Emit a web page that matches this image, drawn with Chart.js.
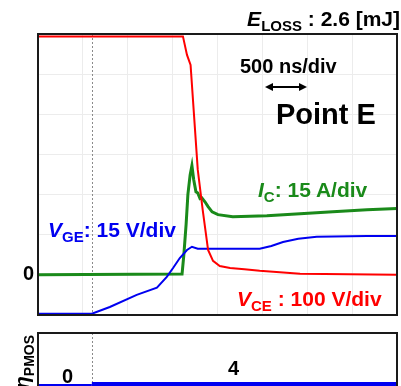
<!DOCTYPE html>
<html>
<head>
<meta charset="utf-8">
<script src="https://cdn.jsdelivr.net/npm/chart.js@4"></script>
<style>
  html, body { margin: 0; padding: 0; background: #fff; }
  body { width: 401px; height: 386px; overflow: hidden; position: relative; }
  canvas { position: absolute; left: 0; }
  .lbl { position: absolute; font-family: 'Liberation Sans', Arial, sans-serif; font-weight: bold; line-height: 1; white-space: nowrap; }
  .lbl sub { font-size: 15px; vertical-align: -5px; line-height: 0; }
</style>
</head>
<body>
<canvas id="mainChart" width="401" height="386" style="top:0"></canvas>
<canvas id="pmosChart" width="401" height="64" style="top:330px"></canvas>

<div class="lbl" style="right:1px; top:8px; font-size:21px;"><i>E</i><sub>LOSS</sub> : 2.6 [mJ]</div>
<div class="lbl" style="left:240px; top:56px; font-size:20px;">500 ns/div</div>
<div class="lbl" style="left:276px; top:100px; font-size:29px;">Point E</div>
<div class="lbl" style="left:258px; top:179px; font-size:21px; color:#1a8a1a;"><i>I</i><sub>C</sub>: 15 A/div</div>
<div class="lbl" style="left:48px; top:219px; font-size:21px; color:#0000f0;"><i>V</i><sub>GE</sub>: 15 V/div</div>
<div class="lbl" style="left:237px; top:288px; font-size:21px; color:#ff0000;"><i>V</i><sub>CE</sub> : 100 V/div</div>
<div class="lbl" style="left:62px; top:366px; font-size:20px;">0</div>
<div class="lbl" style="left:228px; top:358px; font-size:20px;">4</div>
<div class="lbl" style="left:11px; top:389px; font-size:21px; transform-origin:left top; transform:rotate(-90deg);"><i>η</i><sub style="font-size:14px">PMOS</sub></div>

<script>
// values in divisions
const vceX = [0, 3.23, 3.32, 3.40, 3.56, 3.67, 3.79, 3.90, 4.05, 4.28, 4.60, 4.94, 5.84, 8];
const vceY = [5.94, 5.94, 5.48, 5.23, 2.62, 1.62, 0.62, 0.35, 0.22, 0.17, 0.14, 0.10, 0.03, 0.0];

const icX = [0, 3.21, 3.25, 3.30, 3.34, 3.39, 3.43, 3.47, 3.52, 3.56, 3.61, 3.65, 3.72, 3.79, 3.88, 4.01, 4.34, 5.10, 5.84, 6.57, 7.33, 8];
const icY = [0, 0.02, 0.5, 1.25, 2.0, 2.49, 2.72, 2.37, 2.07, 2.04, 1.9, 1.92, 1.82, 1.70, 1.57, 1.50, 1.45, 1.47, 1.52, 1.57, 1.62, 1.65];

const vgeX = [0, 1.2, 1.6, 2.20, 2.65, 2.87, 3.01, 3.16, 3.32, 3.43, 3.56, 4.28, 4.94, 5.20, 5.46, 5.80, 6.21, 7.33, 8];
const vgeY = [-0.97, -0.97, -0.80, -0.50, -0.32, -0.05, 0.17, 0.42, 0.62, 0.70, 0.65, 0.65, 0.65, 0.72, 0.82, 0.90, 0.95, 0.97, 0.97];

// n_PMOS steps from 0 to 4 at the dashed marker
const pmosOffX = [0, 1.2];
const pmosOffY = [0, 0];
const pmosOnX = [1.2, 8];
const pmosOnY = [4, 4];

const markerX = 1.2;
const yTickLabels = { 0: '0' };

function pts(xs, ys) {
    return xs.map((x, i) => ({ x: x, y: ys[i] }));
}

// frame + dashed marker line
const scopePlugin = {
    id: 'scope',
    beforeDatasetsDraw(chart) {
        const ctx = chart.ctx;
        const a = chart.chartArea;
        const px = Math.round(chart.scales.x.getPixelForValue(markerX)) + 0.5;
        ctx.save();
        ctx.strokeStyle = '#8a8a8a';
        ctx.lineWidth = 1;
        ctx.setLineDash([2, 2]);
        ctx.beginPath();
        ctx.moveTo(px, a.top);
        ctx.lineTo(px, a.bottom);
        ctx.stroke();
        ctx.restore();
    },
    afterDatasetsDraw(chart) {
        const ctx = chart.ctx;
        const a = chart.chartArea;
        ctx.save();
        ctx.strokeStyle = '#1a1a1a';
        ctx.lineWidth = 2;
        ctx.strokeRect(a.left, a.top, a.right - a.left, a.bottom - a.top);
        ctx.restore();
    }
};

// the little double arrow under "500 ns/div"
const arrowPlugin = {
    id: 'arrow',
    afterDraw(chart) {
        const ctx = chart.ctx;
        const y = 87, x1 = 265, x2 = 307;
        ctx.save();
        ctx.strokeStyle = '#000';
        ctx.fillStyle = '#000';
        ctx.lineWidth = 2;
        ctx.beginPath();
        ctx.moveTo(x1 + 4, y);
        ctx.lineTo(x2 - 4, y);
        ctx.stroke();
        ctx.beginPath();
        ctx.moveTo(x1, y); ctx.lineTo(x1 + 8, y - 4); ctx.lineTo(x1 + 8, y + 4); ctx.closePath();
        ctx.fill();
        ctx.beginPath();
        ctx.moveTo(x2, y); ctx.lineTo(x2 - 8, y - 4); ctx.lineTo(x2 - 8, y + 4); ctx.closePath();
        ctx.fill();
        ctx.restore();
    }
};

new Chart('mainChart', {
    type: 'line',
    data: {
        datasets: [
            { data: pts(vceX, vceY), borderColor: '#ff0000', borderWidth: 2 },
            { data: pts(vgeX, vgeY), borderColor: '#0000f0', borderWidth: 2 },
            { data: pts(icX, icY), borderColor: '#1a8a1a', borderWidth: 3 }
        ]
    },
    options: {
        responsive: false,
        animation: false,
        layout: { padding: { left: 0, right: 4, top: 34, bottom: 71 } },
        elements: { point: { radius: 0 }, line: { tension: 0 } },
        plugins: { legend: { display: false }, tooltip: { enabled: false } },
        scales: {
            x: {
                type: 'linear', min: 0, max: 8,
                ticks: { stepSize: 1, display: false },
                grid: { color: '#ececec', drawTicks: false },
                border: { display: false },
                afterFit(axis) { axis.height = 0; }
            },
            y: {
                type: 'linear', min: -1, max: 6,
                ticks: {
                    stepSize: 1, padding: 4, color: '#000',
                    font: { family: 'Liberation Sans', size: 20, weight: 'bold' },
                    callback: v => yTickLabels[v] || ''
                },
                grid: { color: '#ececec', drawTicks: false },
                border: { display: false },
                afterFit(axis) { axis.width = 38; }
            }
        }
    },
    plugins: [scopePlugin, arrowPlugin]
});

new Chart('pmosChart', {
    type: 'line',
    data: {
        datasets: [
            { data: pts(pmosOnX, pmosOnY), borderColor: '#0000f0', borderWidth: 4 },
            { data: pts(pmosOffX, pmosOffY), borderColor: '#0000f0', borderWidth: 2 }
        ]
    },
    options: {
        responsive: false,
        animation: false,
        layout: { padding: { left: 0, right: 4, top: 3, bottom: 0 } },
        elements: { point: { radius: 0 }, line: { tension: 0 } },
        plugins: { legend: { display: false }, tooltip: { enabled: false } },
        scales: {
            x: {
                type: 'linear', min: 0, max: 8,
                ticks: { display: false },
                grid: { display: false },
                border: { display: false },
                afterFit(axis) { axis.height = 0; }
            },
            y: {
                type: 'linear', min: -36, max: 208,
                ticks: { display: false },
                grid: { display: false },
                border: { display: false },
                afterFit(axis) { axis.width = 38; }
            }
        }
    },
    plugins: [scopePlugin]
});
</script>
</body>
</html>
